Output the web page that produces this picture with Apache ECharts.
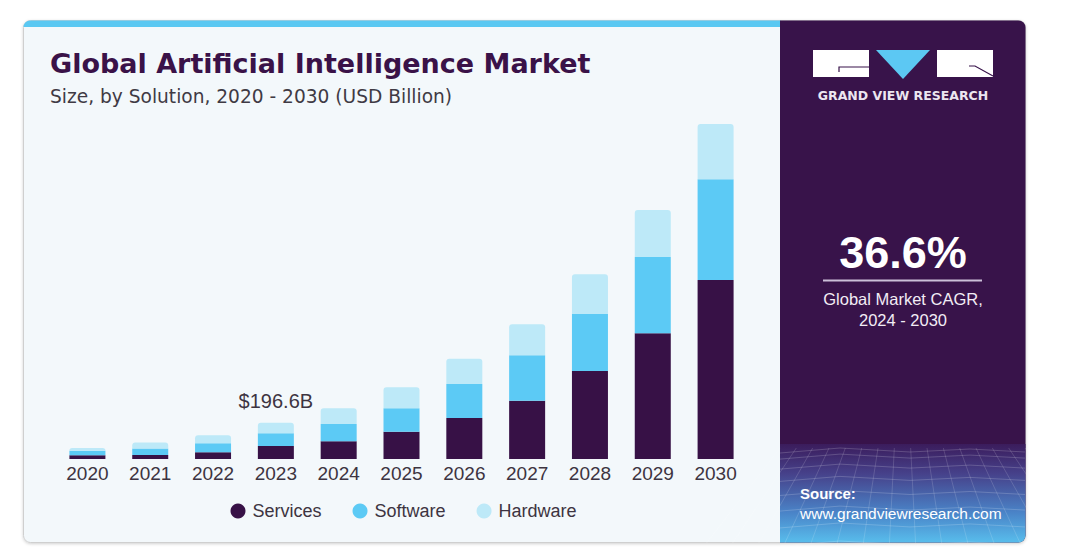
<!DOCTYPE html>
<html>
<head>
<meta charset="utf-8">
<script src="https://cdn.jsdelivr.net/npm/echarts@6/dist/echarts.min.js"></script>
<style>
html,body{margin:0;padding:0;background:#ffffff;}
#chart{width:1087px;height:559px;}
</style>
</head>
<body>
<div id="chart"></div>
<script>
// ---- data ----
const years = ['2020','2021','2022','2023','2024','2025','2026','2027','2028','2029','2030'];
const services = [20.0, 21.0, 36.3, 70.4, 95.9, 147.9, 222.0, 315.8, 476.6, 680.8, 969.5];
const software = [24.9, 35.7, 48.7, 68.8, 93.7, 126.7, 184.1, 245.9, 308.7, 413.2, 545.4];
const hardware = [14.6, 32.5, 43.3, 57.4, 85.0, 113.7, 137.0, 167.9, 215.0, 254.6, 299.5];
const seriesNames = ['Services', 'Software', 'Hardware'];
const annotationIndex = 3;
const annotationText = '$196.6B';
const titleText = 'Global Artificial Intelligence Market';
const subtitleText = 'Size, by Solution, 2020 - 2030 (USD Billion)';
const cagrValue = '36.6%';
const cagrLabel1 = 'Global Market CAGR,';
const cagrLabel2 = '2024 - 2030';
const brandText = 'GRAND VIEW RESEARCH';
const sourceLabel = 'Source:';
const sourceUrl = 'www.grandviewresearch.com';

// ---- colors ----
const C_SERV = '#371146';
const C_SOFT = '#5ccaf5';
const C_HARD = '#bde9f8';
const C_PURPLE = '#38134a';
const C_TEXT = '#3d3441';

const chart = echarts.init(document.getElementById('chart'), null, {renderer: 'svg'});

// decorative mesh for bottom-right panel
const mesh = [];
const mx0 = 780, mx1 = 1025, my0 = 444, my1 = 543;
for (let i = 0; i < 8; i++) {
  const t = i / 7;
  const y = my0 + 6 + Math.pow(t, 1.4) * (my1 - my0 - 6);
  mesh.push({type: 'polyline', silent: true, z: 1,
    shape: {points: [[mx0, y + 3], [mx0 + 60, y - 2], [mx0 + 130, y + 2], [mx0 + 190, y - 1], [mx1, y + 2]]},
    style: {stroke: 'rgba(255,255,255,0.18)', lineWidth: 1, fill: null}});
}
for (let i = 0; i < 16; i++) {
  const xt = mx0 + (i / 15) * (mx1 - mx0);
  const xb = mx0 + ((i - 7.5) * 1.6 / 15 + 0.5) * (mx1 - mx0);
  mesh.push({type: 'line', silent: true, z: 1,
    shape: {x1: xt, y1: my0 + 4, x2: xb, y2: my1},
    style: {stroke: 'rgba(255,255,255,0.15)', lineWidth: 1}});
}

const option = {
  backgroundColor: '#ffffff',
  animation: false,
  textStyle: {fontFamily: 'Liberation Sans'},
  grid: {left: 56, right: 340, top: 89.7, bottom: 100, containLabel: false},
  xAxis: {
    type: 'category', data: years,
    axisLine: {show: false}, axisTick: {show: false},
    axisLabel: {fontSize: 19, color: C_TEXT, margin: 5, fontFamily: 'Liberation Sans'}
  },
  yAxis: {type: 'value', min: 0, max: 2000, show: false, splitLine: {show: false}},
  legend: {
    data: seriesNames, left: 225.5, top: 497, icon: 'circle',
    itemWidth: 15, itemHeight: 15, itemGap: 31,
    textStyle: {fontSize: 18, color: C_TEXT, fontFamily: 'Liberation Sans', padding: [0, 0, 0, 2]}
  },
  series: [
    {name: seriesNames[0], type: 'bar', stack: 'total', barWidth: 36, data: services,
     itemStyle: {color: C_SERV}, z: 3},
    {name: seriesNames[1], type: 'bar', stack: 'total', barWidth: 36, data: software,
     itemStyle: {color: C_SOFT}, z: 3},
    {name: seriesNames[2], type: 'bar', stack: 'total', barWidth: 36,
     data: hardware.map((v, i) => i === annotationIndex ? {
       value: v,
       label: {show: true, position: 'top', distance: 12, formatter: annotationText,
               fontSize: 20, color: C_TEXT, fontFamily: 'Liberation Sans'}
     } : v),
     itemStyle: {color: C_HARD, borderRadius: [3, 3, 0, 0]}, z: 3}
  ],
  graphic: {
    elements: [
      // card shadow/border
      {type: 'rect', silent: true, z: 0,
       shape: {x: 23.5, y: 20.5, width: 1002, height: 522, r: 7},
       style: {fill: '#f3f8fb', stroke: '#cfcfcf', lineWidth: 1,
               shadowBlur: 3, shadowColor: 'rgba(0,0,0,0.18)', shadowOffsetY: 1}},
      // top blue strip
      {type: 'rect', silent: true, z: 1,
       shape: {x: 23.5, y: 20.5, width: 757, height: 6.5, r: [7, 0, 0, 0]},
       style: {fill: '#5ac8f2'}},
      // right purple panel
      {type: 'rect', silent: true, z: 1,
       shape: {x: 780, y: 20.5, width: 245.5, height: 522, r: [0, 7, 7, 0]},
       style: {fill: C_PURPLE}},
      // bottom gradient
      {type: 'rect', silent: true, z: 1,
       shape: {x: 780, y: 444, width: 245.5, height: 98.5, r: [0, 0, 7, 0]},
       style: {fill: new echarts.graphic.LinearGradient(0, 0, 0, 1, [
         {offset: 0, color: '#3b1c5c'},
         {offset: 0.3, color: '#46418a'},
         {offset: 0.7, color: '#4a84c8'},
         {offset: 1, color: '#58bdec'}
       ])}},
      ...mesh,
      // logo blocks
      {type: 'rect', silent: true, z: 5, shape: {x: 813, y: 50, width: 56, height: 27}, style: {fill: '#ffffff'}},
      {type: 'polyline', silent: true, z: 6, shape: {points: [[839, 72], [839, 67], [869, 67]]},
       style: {stroke: C_PURPLE, lineWidth: 1.2, fill: null}},
      {type: 'polygon', silent: true, z: 5, shape: {points: [[876, 50], [930, 50], [903, 79]]}, style: {fill: '#5cc8f3'}},
      {type: 'rect', silent: true, z: 5, shape: {x: 937, y: 50, width: 56, height: 27}, style: {fill: '#ffffff'}},
      {type: 'polyline', silent: true, z: 6, shape: {points: [[969, 66], [975, 66], [993, 76]]},
       style: {stroke: C_PURPLE, lineWidth: 1.2, fill: null}},
      {type: 'text', silent: true, z: 6, x: 903, y: 95,
       style: {text: brandText, fill: '#ece6f0', font: 'bold 12.5px "DejaVu Sans"', align: 'center', verticalAlign: 'middle'}},
      // CAGR
      {type: 'text', silent: true, z: 6, x: 903, y: 252,
       style: {text: cagrValue, fill: '#ffffff', font: 'bold 45px "Liberation Sans"', align: 'center', verticalAlign: 'middle'}},
      {type: 'line', silent: true, z: 6, shape: {x1: 823, y1: 280.5, x2: 982, y2: 280.5},
       style: {stroke: '#cbbfd8', lineWidth: 2}},
      {type: 'text', silent: true, z: 6, x: 903, y: 299,
       style: {text: cagrLabel1, fill: '#f2ecf5', font: '16.5px "Liberation Sans"', align: 'center', verticalAlign: 'middle'}},
      {type: 'text', silent: true, z: 6, x: 903, y: 320,
       style: {text: cagrLabel2, fill: '#f2ecf5', font: '16.5px "Liberation Sans"', align: 'center', verticalAlign: 'middle'}},
      // source
      {type: 'text', silent: true, z: 6, x: 800, y: 493,
       style: {text: sourceLabel, fill: '#ffffff', font: 'bold 15px "Liberation Sans"', align: 'left', verticalAlign: 'middle'}},
      {type: 'text', silent: true, z: 6, x: 800, y: 513,
       style: {text: sourceUrl, fill: '#ffffff', font: '15.5px "Liberation Sans"', align: 'left', verticalAlign: 'middle'}},
      // title
      {type: 'text', silent: true, z: 6, x: 50, y: 63,
       style: {text: titleText, fill: '#3a1248', font: 'bold 27px "DejaVu Sans"', align: 'left', verticalAlign: 'middle'}},
      {type: 'text', silent: true, z: 6, x: 50, y: 96,
       style: {text: subtitleText, fill: '#3f3a44', font: '18.6px "DejaVu Sans"', align: 'left', verticalAlign: 'middle'}}
    ]
  }
};
chart.setOption(option);
</script>
</body>
</html>
